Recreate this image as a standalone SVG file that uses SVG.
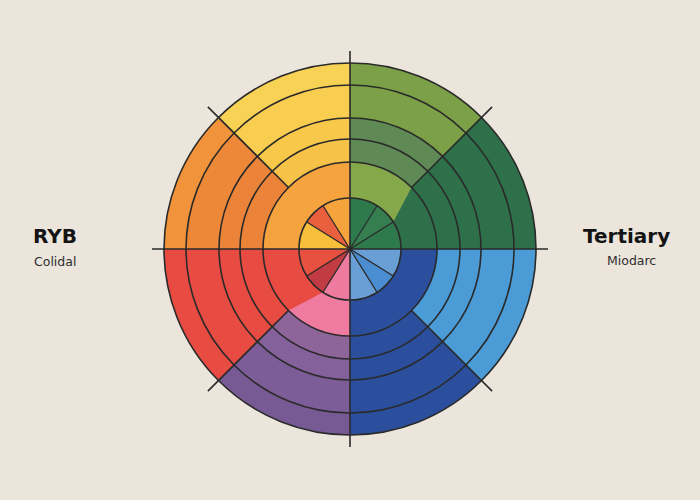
<svg xmlns="http://www.w3.org/2000/svg" width="700" height="500" viewBox="0 0 700 500">
<style>
.ring{fill:none;stroke:#2a2a2a;stroke-width:1.6}
.ax{stroke:#2a2a2a;stroke-width:1.6;fill:none}
.thin{stroke:#2a2a2a;stroke-width:1.3;fill:none}
.title{font-family:"DejaVu Sans",sans-serif;font-weight:bold;fill:#141414}
.sub{font-family:"DejaVu Sans",sans-serif;font-size:12.5px;fill:#2e2e2e}
</style>
<rect width="700" height="500" fill="#ebe5dc"/>
<g id="wheel">
<g id="outer-octants">
<path d="M350 249 L350 63 A186 186 0 0 0 218.48 117.48Z" fill="#f8d254"/>
<path d="M350 249 L350 85 A164 164 0 0 0 234.03 133.03Z" fill="#f9cd4f"/>
<path d="M350 249 L350 118 A131 131 0 0 0 257.37 156.37Z" fill="#f8c84b"/>
<path d="M350 249 L350 139 A110 110 0 0 0 272.22 171.22Z" fill="#f7c248"/>
<path d="M350 249 L218.48 117.48 A186 186 0 0 0 164 249Z" fill="#f0933a"/>
<path d="M350 249 L234.03 133.03 A164 164 0 0 0 186 249Z" fill="#ec8838"/>
<path d="M350 249 L257.37 156.37 A131 131 0 0 0 219 249Z" fill="#eb8438"/>
<path d="M350 249 L164 249 A186 186 0 0 0 218.48 380.52Z" fill="#e84b41"/>
<path d="M350 249 L218.48 380.52 A186 186 0 0 0 350 435Z" fill="#775a94"/>
<path d="M350 249 L234.03 364.97 A164 164 0 0 0 350 413Z" fill="#7c5d98"/>
<path d="M350 249 L257.37 341.63 A131 131 0 0 0 350 380Z" fill="#84619a"/>
<path d="M350 249 L272.22 326.78 A110 110 0 0 0 350 359Z" fill="#8d6599"/>
<path d="M350 249 L350 435 A186 186 0 0 0 481.52 380.52Z" fill="#2c4f9d"/>
<path d="M350 249 L481.52 380.52 A186 186 0 0 0 536 249Z" fill="#4a9bd6"/>
<path d="M350 249 L536 249 A186 186 0 0 0 481.52 117.48Z" fill="#2d7049"/>
<path d="M350 249 L481.52 117.48 A186 186 0 0 0 350 63Z" fill="#7ba047"/>
<path d="M350 249 L442.63 156.37 A131 131 0 0 0 350 118Z" fill="#5f8a55"/>
</g>
<g id="inner-ring">
<path d="M350 249 L350 162 A87 87 0 0 0 263 249Z" fill="#f4a33e"/>
<path d="M350 249 L437 249 A87 87 0 0 0 350 162Z" fill="#2d7049"/>
<path d="M350 249 L350 336 A87 87 0 0 0 437 249Z" fill="#2c4f9d"/>
<path d="M350 249 L263 249 A87 87 0 0 0 350 336Z" fill="#e84b41"/>
<path d="M411.52 187.48 A87 87 0 0 0 350 162 L350 198 A51 51 0 0 1 393.25 221.97Z" fill="#85a84a"/>
<path d="M288.48 310.52 L322.97 292.25 A51 51 0 0 0 350 300 L350 336 A87 87 0 0 1 288.48 310.52Z" fill="#ef7ba0"/>
</g>
<g id="center">
<path d="M350 249 L350 198 A51 51 0 0 0 322.97 205.75Z" fill="#f5a33c"/>
<path d="M350 249 L322.97 205.75 A51 51 0 0 0 306.75 221.97Z" fill="#e8603e"/>
<path d="M350 249 L306.75 221.97 A51 51 0 0 0 299 249Z" fill="#f8bf3c"/>
<path d="M350 249 L401 249 A51 51 0 0 0 350 198Z" fill="#2f7a4c"/>
<path d="M350 249 L393.25 221.97 A51 51 0 0 0 377.03 205.75Z" fill="#347e50"/>
<path d="M350 249 L350 300 A51 51 0 0 0 401 249Z" fill="#6a9fd6"/>
<path d="M350 249 L377.03 292.25 A51 51 0 0 0 393.25 276.03Z" fill="#4a8dd0"/>
<path d="M350 249 L299 249 A51 51 0 0 0 350 300Z" fill="#e85040"/>
<path d="M350 249 L306.75 276.03 A51 51 0 0 0 322.97 292.25Z" fill="#c03c42"/>
<path d="M350 249 L322.97 292.25 A51 51 0 0 0 350 300Z" fill="#ef7aa0"/>
</g>
</g>
<g id="connectors">
<circle class="ring" cx="350" cy="249" r="186"/>
<circle class="ring" cx="350" cy="249" r="164"/>
<circle class="ring" cx="350" cy="249" r="131"/>
<circle class="ring" cx="350" cy="249" r="110"/>
<circle class="ring" cx="350" cy="249" r="87"/>
<circle class="ring" cx="350" cy="249" r="51"/>
<line class="ax" x1="350" y1="51" x2="350" y2="447"/>
<line class="ax" x1="152" y1="249" x2="548" y2="249"/>
<line class="ax" x1="288.48" y1="187.48" x2="207.9" y2="106.9"/>
<line class="ax" x1="411.52" y1="187.48" x2="492.1" y2="106.9"/>
<line class="ax" x1="288.48" y1="310.52" x2="207.9" y2="391.1"/>
<line class="ax" x1="411.52" y1="310.52" x2="492.1" y2="391.1"/>
<line class="thin" x1="350" y1="249" x2="393.25" y2="221.97"/>
<line class="thin" x1="350" y1="249" x2="377.03" y2="205.75"/>
<line class="thin" x1="350" y1="249" x2="322.97" y2="205.75"/>
<line class="thin" x1="350" y1="249" x2="306.75" y2="221.97"/>
<line class="thin" x1="350" y1="249" x2="306.75" y2="276.03"/>
<line class="thin" x1="350" y1="249" x2="322.97" y2="292.25"/>
<line class="thin" x1="350" y1="249" x2="393.25" y2="276.03"/>
<line class="thin" x1="350" y1="249" x2="377.03" y2="292.25"/>
</g>
<g id="label-left">
<text class="title" x="33" y="243" font-size="20">RYB</text>
<text class="sub" x="34" y="266">Colidal</text>
</g>
<g id="label-right">
<text class="title" x="583" y="243" font-size="20">Tertiary</text>
<text class="sub" x="607" y="265">Miodarc</text>
</g>
</svg>
